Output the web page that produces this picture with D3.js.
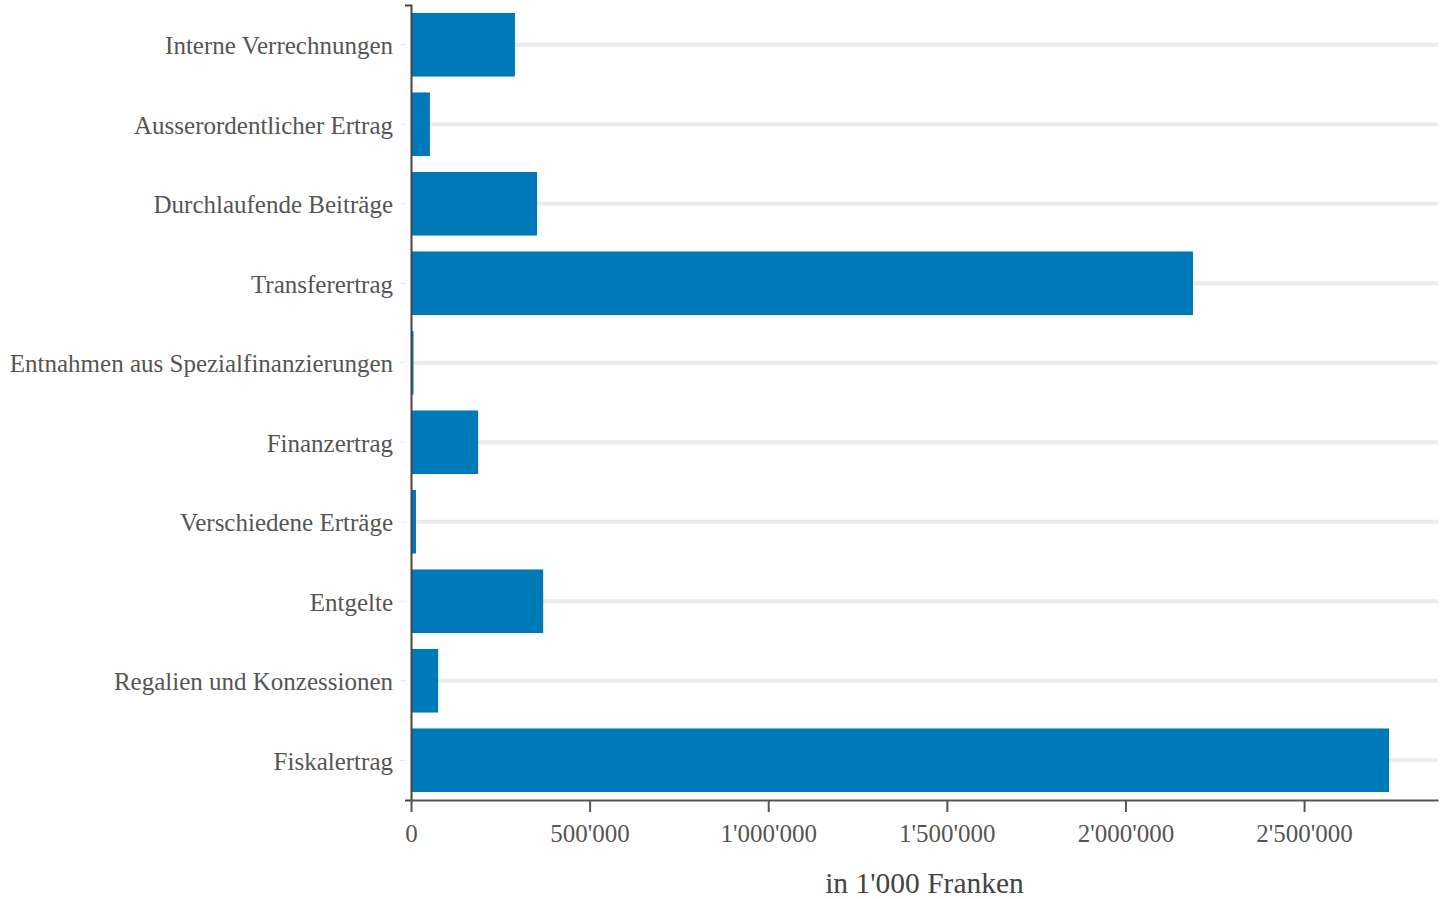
<!DOCTYPE html>
<html><head><meta charset="utf-8">
<script src="https://cdn.jsdelivr.net/npm/d3@7"></script>
<style>body{margin:0;background:#fff}svg{display:block}</style>
</head><body>
<svg id="chart" width="1456" height="899"></svg>
<script>
const categories = ["Interne Verrechnungen","Ausserordentlicher Ertrag","Durchlaufende Beiträge","Transferertrag","Entnahmen aus Spezialfinanzierungen","Finanzertrag","Verschiedene Erträge","Entgelte","Regalien und Konzessionen","Fiskalertrag"];
const values = [291000, 53000, 353000, 2189000, 7000, 188000, 14000, 370000, 76000, 2738000];
const xTicks = [0, 500000, 1000000, 1500000, 2000000, 2500000];
const xTitle = "in 1'000 Franken";

const svg = d3.select("#chart");
const m = {l:411, r:1438, t:5, b:800};
const x = d3.scaleLinear().domain([0, d3.max(values)*1.05]).range([m.l, m.r]);
const y = d3.scaleBand().domain(categories).range([m.t, m.b]).paddingInner(0.2).paddingOuter(0.1);
const font = "'Liberation Serif','Times New Roman',serif";
const fmt = v => d3.format(",")(v).replace(/,/g, "'");

// gridlines
svg.append("g").selectAll("line").data(categories).join("line")
  .attr("x1", m.l).attr("x2", m.r)
  .attr("y1", d => y(d)+y.bandwidth()/2).attr("y2", d => y(d)+y.bandwidth()/2)
  .attr("stroke", "#ebebeb").attr("stroke-width", 4);

// bars
svg.append("g").selectAll("rect").data(values).join("rect")
  .attr("x", x(0)).attr("y", (d,i) => y(categories[i]))
  .attr("width", d => x(d)-x(0)).attr("height", y.bandwidth())
  .attr("fill", "#0079b9");

// y axis
const ya = svg.append("g").attr("transform", `translate(${m.l},0)`)
  .call(d3.axisLeft(y).tickSize(6).tickPadding(12));
ya.select(".domain").attr("stroke", "#444").attr("stroke-width", 2);
ya.selectAll(".tick line").attr("stroke", "#e6e6e6").attr("stroke-width", 1).attr("transform","translate(-5,0)");
ya.selectAll(".tick text").attr("font-family", font).attr("font-size", 25).attr("fill", "#555").attr("dy", "0.38em");

// x axis
const xa = svg.append("g").attr("transform", `translate(0,${m.b})`)
  .call(d3.axisBottom(x).tickValues(xTicks).tickFormat(fmt).tickSize(12).tickSizeOuter(0).tickPadding(12));
xa.select(".domain").attr("stroke", "#555").attr("stroke-width", 2);
xa.selectAll(".tick line").attr("stroke", "#555").attr("stroke-width", 2);
xa.selectAll(".tick text").attr("font-family", font).attr("font-size", 25).attr("fill", "#555");

svg.append("text").attr("x", (m.l+m.r)/2).attr("y", 893).attr("text-anchor","middle")
  .attr("font-family", font).attr("font-size", 29.5).attr("fill", "#444").text(xTitle);
</script>
</body></html>
